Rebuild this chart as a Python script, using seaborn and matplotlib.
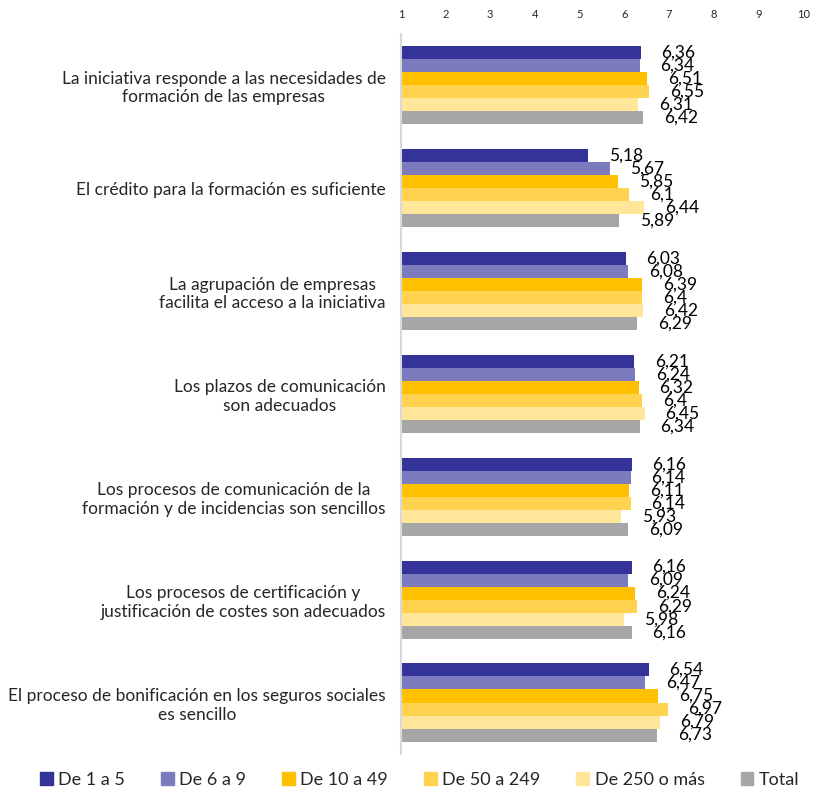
import matplotlib

matplotlib.use("Agg")
import matplotlib.pyplot as plt
import matplotlib.patches as mpatches
import pandas as pd
import seaborn as sns

# ---------------------------------------------------------------------------
# Data
# ---------------------------------------------------------------------------
CATEGORIES = [
    "La iniciativa responde a las necesidades de\nformación de las empresas",
    "El crédito para la formación es suficiente",
    "La agrupación de empresas\nfacilita el acceso a la iniciativa",
    "Los plazos de comunicación\nson adecuados",
    "Los procesos de comunicación de la\nformación y de incidencias son sencillos",
    "Los procesos de certificación y\njustificación de costes son adecuados",
    "El proceso de bonificación en los seguros sociales\nes sencillo",
]
SIZES = ["De 1 a 5", "De 6 a 9", "De 10 a 49", "De 50 a 249", "De 250 o más", "Total"]

de_1_a_5 = [6.36, 5.18, 6.03, 6.21, 6.16, 6.16, 6.54]
de_6_a_9 = [6.34, 5.67, 6.08, 6.24, 6.14, 6.09, 6.47]
de_10_a_49 = [6.51, 5.85, 6.39, 6.32, 6.11, 6.24, 6.75]
de_50_a_249 = [6.55, 6.10, 6.40, 6.40, 6.14, 6.29, 6.97]
de_250_mas = [6.31, 6.44, 6.42, 6.45, 5.93, 5.98, 6.79]
total = [6.42, 5.89, 6.29, 6.34, 6.09, 6.16, 6.73]

X_TICKS = list(range(1, 11))
COLORS = ["#333399", "#7b7bbd", "#ffc000", "#ffd34f", "#ffe699", "#a6a6a6"]

series = [de_1_a_5, de_6_a_9, de_10_a_49, de_50_a_249, de_250_mas, total]
df = pd.DataFrame(
    [
        {"aspecto": cat, "tamaño": size, "valor": vals[i]}
        for size, vals in zip(SIZES, series)
        for i, cat in enumerate(CATEGORIES)
    ]
)

# ---------------------------------------------------------------------------
# Plot
# ---------------------------------------------------------------------------
sns.set_theme(style="white")
plt.rcParams["font.family"] = ["Lato", "DejaVu Sans"]

fig = plt.figure(figsize=(8.18, 7.87), dpi=100)
ax = fig.add_axes([0.490, 0.042, 0.492, 0.915])

sns.barplot(data=df, y="aspecto", x="valor", hue="tamaño", order=CATEGORIES,
            hue_order=SIZES, palette=COLORS, orient="h", width=0.76,
            saturation=1, linewidth=0, ax=ax, legend=False)

# value labels with decimal comma, overlapping like the original
for container, vals in zip(ax.containers, series):
    labels = [f"{v:g}".replace(".", ",") for v in vals]
    ax.bar_label(container, labels=labels, padding=15, fontsize=12.5,
                 color="black")

ax.set_xlim(1, 10)
ax.set_ylim(6.5, -0.5)
ax.set_xticks(X_TICKS)
ax.xaxis.tick_top()
ax.tick_params(axis="x", length=0, labelsize=8, pad=10)
ax.tick_params(axis="y", length=0, labelsize=12.5, pad=11)
for lab in ax.get_yticklabels():
    lab.set_multialignment("center")
ax.set_xlabel("")
ax.set_ylabel("")
for side in ["top", "right", "bottom"]:
    ax.spines[side].set_visible(False)
ax.spines["left"].set_color("#d9d9d9")
ax.spines["left"].set_linewidth(1.5)

handles = [mpatches.Patch(color=c, label=s) for c, s in zip(COLORS, SIZES)]
fig.legend(handles=handles, loc="lower center", bbox_to_anchor=(0.513, -0.022),
           ncol=6, frameon=False, fontsize=13, handlelength=0.7,
           handleheight=0.7, handletextpad=0.3, columnspacing=2.0)

fig.savefig("out.png", dpi=100)
